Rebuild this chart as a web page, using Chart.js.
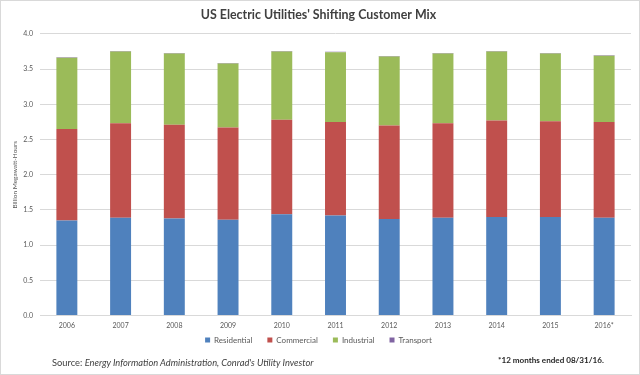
<!DOCTYPE html>
<html>
<head>
<meta charset="utf-8">
<script src="https://cdn.jsdelivr.net/npm/chart.js@4/dist/chart.umd.min.js"></script>
<style>
  html, body { margin: 0; padding: 0; background: #fff; }
  #wrap { position: relative; width: 640px; height: 375px; }
  #frame { position: absolute; left: 0; top: 0; width: 640px; height: 375px; box-sizing: border-box; border: 1px solid #d9d9d9; pointer-events: none; }
  .note { position: absolute; font-family: Lato, sans-serif; color: #404040; white-space: nowrap; line-height: 1.2; }
  #source { left: 52px; top: 357px; font-size: 9.3px; }
  #period { left: 498px; top: 356px; font-size: 8.1px; font-weight: bold; color: #262626; }
</style>
</head>
<body>
<div id="wrap">
  <canvas id="mixChart" width="640" height="375"></canvas>
  <div id="source" class="note">Source: <i>Energy Information Administration, Conrad's Utility Investor</i></div>
  <div id="period" class="note">*12 months ended 08/31/16.</div>
  <div id="frame"></div>
</div>
<script>
// Billion MWh
const years = ['2006', '2007', '2008', '2009', '2010', '2011', '2012', '2013', '2014', '2015', '2016*'];
const residential = [1.35, 1.39, 1.38, 1.36, 1.44, 1.42, 1.37, 1.39, 1.40, 1.40, 1.39];
const commercial = [1.30, 1.34, 1.33, 1.31, 1.34, 1.33, 1.33, 1.34, 1.37, 1.36, 1.36];
const industrial = [1.01, 1.02, 1.01, 0.91, 0.97, 0.99, 0.98, 0.99, 0.98, 0.96, 0.94];
const transport = [0.008, 0.008, 0.008, 0.008, 0.008, 0.008, 0.007, 0.008, 0.008, 0.008, 0.008];
const yTicks = [0, 0.5, 1, 1.5, 2, 2.5, 3, 3.5, 4];

const textColor = '#595959';
const gridColor = '#d9d9d9';

const makeSet = (label, data, color) => ({
  label,
  data,
  backgroundColor: color,
  borderWidth: 0,
  barPercentage: 0.39,
  categoryPercentage: 1
});

// legend sits a bit closer to the axis labels than chart.js puts it
const legendNudge = {
  id: 'legendNudge',
  afterLayout(chart) {
    const lg = chart.legend;
    lg.top -= 15;
    lg.bottom -= 15;
  }
};

new Chart(document.getElementById('mixChart').getContext('2d'), {
  type: 'bar',
  data: {
    labels: years,
    datasets: [
      makeSet('Residential', residential, '#4f81bd'),
      makeSet('Commercial', commercial, '#c0504d'),
      makeSet('Industrial', industrial, '#9bbb59'),
      makeSet('Transport', transport, '#8064a2')
    ]
  },
  plugins: [legendNudge],
  options: {
    responsive: false,
    animation: false,
    devicePixelRatio: 1,
    layout: { padding: { left: 6, right: 9, top: 0, bottom: 6 } },
    plugins: {
      title: {
        display: true,
        text: "US Electric Utilities' Shifting Customer Mix",
        color: '#404040',
        font: { family: 'Lato', size: 12.4, weight: 'bold' },
        padding: { top: 8, bottom: 11 }
      },
      legend: {
        position: 'bottom',
        labels: {
          color: textColor,
          font: { family: 'Lato', size: 8 },
          boxWidth: 5,
          boxHeight: 5,
          padding: 15
        }
      },
      tooltip: { enabled: false }
    },
    scales: {
      x: {
        stacked: true,
        grid: { display: false, drawTicks: false },
        border: { color: gridColor },
        ticks: { color: textColor, font: { family: 'Lato', size: 7 }, padding: 6 }
      },
      y: {
        stacked: true,
        min: 0,
        max: 4,
        afterBuildTicks: (scale) => { scale.ticks = yTicks.map((v) => ({ value: v })); },
        afterFit: (scale) => { scale.width = 34; },
        ticks: {
          color: textColor,
          font: { family: 'Lato', size: 7 },
          padding: 7,
          callback: (v) => Number(v).toFixed(1)
        },
        grid: { color: gridColor, drawTicks: false },
        border: { display: false },
        title: {
          display: true,
          text: 'Billion Megawatt-Hours',
          color: textColor,
          font: { family: 'Lato', size: 6.5 },
          padding: { top: 5.5, bottom: 2 }
        }
      }
    }
  }
});
</script>
</body>
</html>
